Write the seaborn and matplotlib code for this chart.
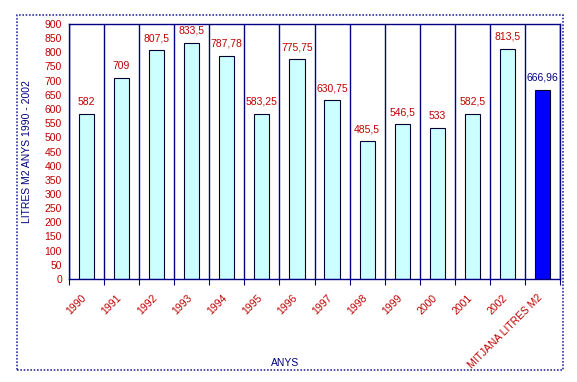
import matplotlib.pyplot as plt
import matplotlib.transforms as mtransforms
import numpy as np
import pandas as pd
import seaborn as sns
from matplotlib.patches import Rectangle

sns.set_theme(style="white")
plt.rcParams["font.family"] = ["Liberation Sans", "DejaVu Sans"]

# Data
categories = ["1990", "1991", "1992", "1993", "1994", "1995", "1996", "1997",
              "1998", "1999", "2000", "2001", "2002", "MITJANA LITRES M2"]
values = [582, 709, 807.5, 833.5, 787.78, 583.25, 775.75, 630.75,
          485.5, 546.5, 533, 582.5, 813.5, 666.96]
value_labels = ["582", "709", "807,5", "833,5", "787,78", "583,25", "775,75",
                "630,75", "485,5", "546,5", "533", "582,5", "813,5", "666,96"]

navy = "#000080"
red = "#c00000"
bar_colors = ["#ccffff"] * 13 + ["#0000ff"]

df = pd.DataFrame({"cat": categories, "val": values})

fig = plt.figure(figsize=(5.77, 3.82), dpi=100)
ax = fig.add_axes([69 / 577, 1 - 279 / 382, 491 / 577, 255 / 382])

sns.barplot(data=df, x="cat", y="val", hue="cat", palette=bar_colors,
            legend=False, width=0.43, edgecolor="#000030", linewidth=0.8,
            saturation=1, ax=ax)

ax.set_xlim(-0.5, len(categories) - 0.5)
ax.set_ylim(0, 900)
ax.set_yticks(np.arange(0, 901, 50))
ax.tick_params(axis="y", labelsize=7.5, labelcolor=red, color=navy,
               length=3, width=0.8, pad=2)

# category boundaries as grid lines with ticks
ax.set_xticks(np.arange(-0.5, len(categories)), minor=True)
ax.grid(True, which="minor", axis="x", color=navy, linewidth=1.0)
ax.tick_params(axis="x", which="minor", length=4, color=navy, width=0.8,
               direction="out", bottom=True)
ax.tick_params(axis="x", which="major", length=0, labelsize=7.5,
               labelcolor=red, pad=10)
ax.set_xticks(range(len(categories)))
ax.set_xticklabels(categories, rotation=45, ha="right",
                   rotation_mode="anchor")
shift = mtransforms.ScaledTranslation(-5 / 100, 0, fig.dpi_scale_trans)
for lab in ax.get_xticklabels():
    lab.set_transform(lab.get_transform() + shift)

for s in ax.spines.values():
    s.set_color(navy)
    s.set_linewidth(1.0)

for i, (v, lab) in enumerate(zip(values, value_labels)):
    ax.text(i, v + 25, lab, ha="center", va="bottom", fontsize=7.5,
            color=navy if i == len(values) - 1 else red)

ax.set_xlabel("ANYS", fontsize=7.5, color=navy, labelpad=0)
ax.xaxis.set_label_coords((285 - 69) / 491, -(358 - 279) / 255)
ax.set_ylabel("LITRES M2 ANYS 1990 - 2002", fontsize=7.5, color=navy)
ax.yaxis.set_label_coords(-(69 - 32) / 491, 0.5)

# dotted outer frame
fig.patches.append(Rectangle((17 / 577, 1 - 370 / 382), 546 / 577, 355 / 382,
                             transform=fig.transFigure, fill=False,
                             edgecolor="#3030a0", linestyle=(0, (1, 1)),
                             linewidth=1.2))

fig.savefig("out.png", dpi=100)
